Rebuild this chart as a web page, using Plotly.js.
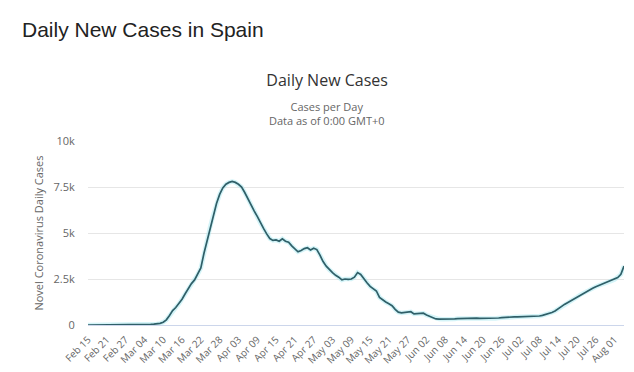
<!DOCTYPE html>
<html>
<head>
<meta charset="utf-8">
<script src="https://cdn.plot.ly/plotly-3.0.1.min.js"></script>
<style>
html,body{margin:0;padding:0;background:#fff;}
#chart{width:634px;height:372px;}
</style>
</head>
<body>
<div id="chart"></div>
<script>
// Daily values, one per day starting Feb 15 2020
var startDate = '2020-02-15';
var dailyCases = [
  0,0,0,0,0,0,0,0,0,0,
  1,2,3,4,5,7,9,12,18,25,
  35,45,60,90,150,280,520,780,950,1150,
  1400,1700,2000,2250,2450,2750,3100,3900,4600,5350,
  6000,6600,7100,7450,7650,7750,7800,7750,7650,7500,
  7200,6850,6550,6200,5900,5550,5250,4950,4700,4600,
  4620,4550,4680,4550,4500,4300,4150,3980,4050,4150,
  4200,4080,4170,4100,3800,3450,3200,3000,2850,2700,
  2600,2450,2500,2480,2500,2600,2850,2750,2500,2300,
  2100,1950,1850,1500,1350,1250,1150,1050,850,700,
  660,680,660,720,600,610,600,640,540,480,
  400,330,320,315,310,305,310,330,350,360,
  370,365,380,390,370,360,360,350,355,345,
  360,380,400,420,440,445,440,445,450,450,
  450,455,460,470,490,520,560,600,680,760,
  860,1000,1120,1220,1320,1420,1520,1640,1740,1830,
  1920,2000,2080,2150,2200,2260,2330,2400,2470,2580,
  2750,3200
];
var tickDates = ['2020-02-15','2020-02-21','2020-02-27','2020-03-04','2020-03-10','2020-03-16','2020-03-22','2020-03-28','2020-04-03','2020-04-09','2020-04-15','2020-04-21','2020-04-27','2020-05-03','2020-05-09','2020-05-15','2020-05-21','2020-05-27','2020-06-02','2020-06-08','2020-06-14','2020-06-20','2020-06-26','2020-07-02','2020-07-08','2020-07-14','2020-07-20','2020-07-26','2020-08-01'];
var tickLabels = ['Feb 15','Feb 21','Feb 27','Mar 04','Mar 10','Mar 16','Mar 22','Mar 28','Apr 03','Apr 09','Apr 15','Apr 21','Apr 27','May 03','May 09','May 15','May 21','May 27','Jun 02','Jun 08','Jun 14','Jun 20','Jun 26','Jul 02','Jul 08','Jul 14','Jul 20','Jul 26','Aug 01'];
var yTickVals = [0,2500,5000,7500,10000];
var yTickLabels = ['0','2.5k','5k','7.5k','10k'];

function pad(n){return (n<10?'0':'')+n;}
var dates = [];
var base = new Date(startDate + 'T00:00:00Z');
for (var i = 0; i < dailyCases.length; i++) {
  var d = new Date(base.getTime() + i*86400000);
  dates.push(d.getUTCFullYear()+'-'+pad(d.getUTCMonth()+1)+'-'+pad(d.getUTCDate()));
}

var glow = {
  x: dates, y: dailyCases, type: 'scatter', mode: 'lines',
  line: {color: 'rgba(160,230,240,0.45)', width: 4.5},
  hoverinfo: 'skip', showlegend: false
};
var trace = {
  x: dates, y: dailyCases, type: 'scatter', mode: 'lines',
  name: 'Daily Cases',
  line: {color: '#2f5f68', width: 1.7},
  showlegend: false
};

var layout = {
  width: 634, height: 372,
  margin: {l: 88, r: 10, t: 141, b: 47},
  paper_bgcolor: '#ffffff', plot_bgcolor: '#ffffff',
  font: {family: 'Open Sans, sans-serif', color: '#666666', size: 11},
  title: {
    text: 'Daily New Cases',
    font: {family: 'Open Sans, sans-serif', size: 16, color: '#333333'},
    xref: 'container', yref: 'container',
    x: 0.516, y: 1 - 80/372, xanchor: 'center', yanchor: 'middle'
  },
  xaxis: {
    type: 'date',
    range: [dates[0], dates[dates.length-1]],
    tickvals: tickDates, ticktext: tickLabels,
    tickangle: -45,
    tickfont: {size: 10, color: '#666666'},
    showgrid: false, zeroline: false,
    showline: true, linecolor: '#ccd6eb', linewidth: 1,
    ticks: 'outside', ticklen: 4, tickcolor: 'rgba(0,0,0,0)'
  },
  yaxis: {
    range: [0, 10000],
    tickvals: yTickVals, ticktext: yTickLabels,
    tickfont: {size: 11, color: '#666666'},
    showgrid: true, gridcolor: '#e6e6e6', gridwidth: 1,
    zeroline: false, showline: false,
    ticks: 'outside', ticklen: 10, tickcolor: 'rgba(0,0,0,0)',
    title: {text: 'Novel Coronavirus Daily Cases', font: {size: 11, color: '#666666'}, standoff: 7}
  },
  annotations: [
    {
      text: 'Daily New Cases in Spain',
      xref: 'paper', yref: 'paper',
      x: (20-88)/536, y: (325-29)/184,
      xanchor: 'left', yanchor: 'middle', showarrow: false,
      font: {family: 'Liberation Sans, Arial, sans-serif', size: 21, color: '#222222'}
    },
    {
      text: 'Cases per Day<br>Data as of 0:00 GMT+0',
      xref: 'paper', yref: 'paper',
      x: (327-88)/536, y: (325-113)/184,
      xanchor: 'center', yanchor: 'middle', showarrow: false,
      font: {family: 'Open Sans, sans-serif', size: 11, color: '#666666'}
    }
  ]
};

Plotly.newPlot('chart', [glow, trace], layout, {displayModeBar: false, staticPlot: true});
</script>
</body>
</html>
